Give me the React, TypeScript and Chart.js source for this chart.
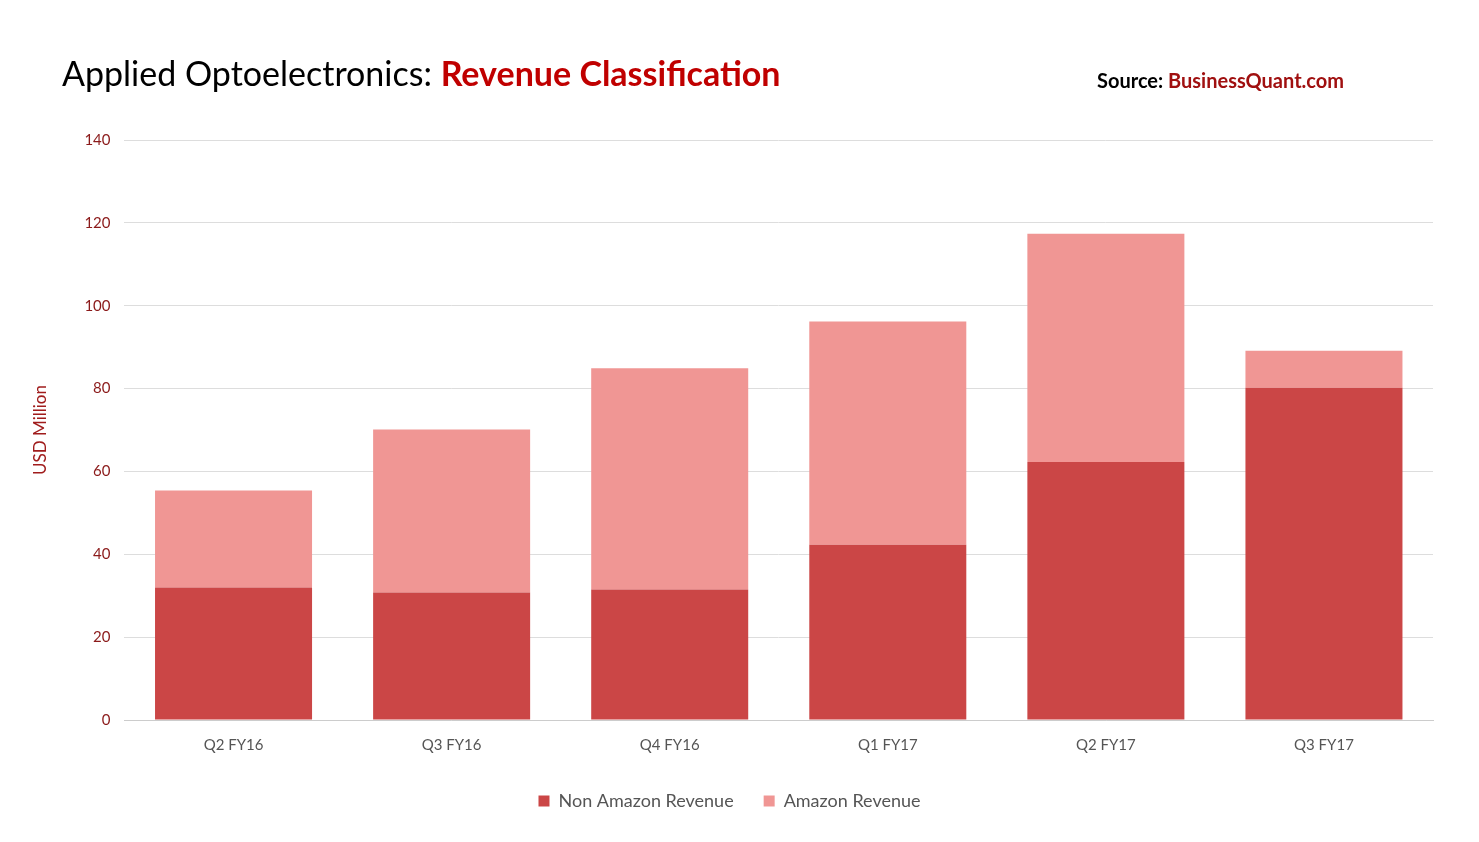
import React, { useEffect, useRef } from "react";
import { Chart, registerables } from "chart.js";
Chart.register(...registerables);

const categories = ["Q2 FY16", "Q3 FY16", "Q4 FY16", "Q1 FY17", "Q2 FY17", "Q3 FY17"];
const nonAmazon = [32.0, 30.8, 31.5, 42.3, 62.3, 80.2];
const amazon = [23.4, 39.3, 53.4, 53.9, 55.1, 8.9];
const FONT = "Lato, 'Open Sans', sans-serif";

export default function App() {
  const ref = useRef<HTMLCanvasElement>(null);
  useEffect(() => {
    const chart = new Chart(ref.current!, {
      type: "bar",
      data: {
        labels: categories,
        datasets: [
          { label: "Non Amazon Revenue", data: nonAmazon, backgroundColor: "#CB4646" },
          { label: "Amazon Revenue", data: amazon, backgroundColor: "#F09694" },
        ],
      },
      options: {
        animation: false,
        responsive: false,
        layout: { padding: { top: 140, left: 26, right: 46, bottom: 22 } },
        plugins: {
          legend: {
            position: "bottom",
            labels: { font: { family: FONT, size: 18 }, color: "#555", boxWidth: 11, boxHeight: 11, padding: 30 },
          },
          tooltip: { enabled: false },
        },
        scales: {
          x: {
            stacked: true,
            barPercentage: 0.4,
            categoryPercentage: 1,
            grid: { display: false },
            border: { color: "#ccc" },
            ticks: { font: { family: FONT, size: 15 }, color: "#555", padding: 8 },
          },
          y: {
            stacked: true,
            min: 0,
            max: 140,
            ticks: { stepSize: 20, font: { family: FONT, size: 15 }, color: "#8B1A1A", padding: 14 },
            grid: { color: "#ddd", drawTicks: false },
            border: { display: false },
            title: { display: true, text: "USD Million", font: { family: FONT, size: 17 }, color: "#A01C1C", padding: { bottom: 20 } },
          },
        },
      },
    });
    return () => chart.destroy();
  }, []);
  return (
    <div style={{ position: "fixed", left: 0, top: 0, width: 1479, height: 842, background: "#fff" }}>
      <canvas ref={ref} width={1479} height={842} />
      <div style={{ position: "absolute", left: 62, top: 52, fontFamily: FONT, fontSize: 34, color: "#000", whiteSpace: "nowrap" }}>
        Applied Optoelectronics: <span style={{ color: "#C00000", fontWeight: 700 }}>Revenue Classification</span>
      </div>
      <div style={{ position: "absolute", left: 1097, top: 68, fontFamily: FONT, fontSize: 20, fontWeight: 700, color: "#000", whiteSpace: "nowrap" }}>
        Source: <span style={{ color: "#A01010" }}>BusinessQuant.com</span>
      </div>
    </div>
  );
}
